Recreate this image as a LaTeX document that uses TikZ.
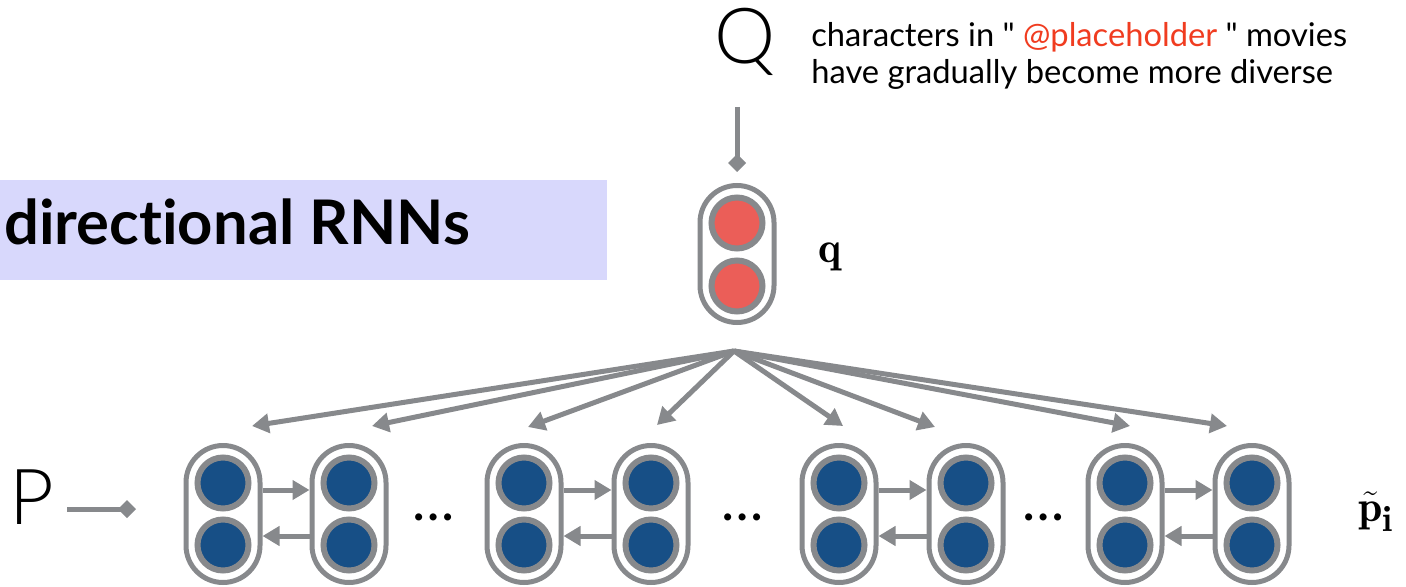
\documentclass[tikz,border=0pt]{standalone}
\usepackage{fontspec}
\usetikzlibrary{arrows.meta}

\newfontfamily\labelfont{Lato}[Ligatures=NoCommon]
\newfontfamily\thinfont{Lato}[UprightFont=* Light]

\definecolor{wire}{HTML}{87898C}
\definecolor{unitblue}{HTML}{174F86}
\definecolor{unitred}{HTML}{EB5E58}
\definecolor{banner}{HTML}{D8D8FC}
\definecolor{maskred}{HTML}{F03C20}

\begin{document}
\begin{tikzpicture}[x=0.2mm, y=-0.2mm,
    cell/.style={draw=wire, line width=1mm, fill=white, rounded corners=7.4mm,
                 minimum width=14.8mm, minimum height=27.4mm, inner sep=0},
    unit/.style={circle, draw=wire, line width=1.2mm, inner sep=0, minimum size=10.2mm},
    fwd/.style={unit, fill=unitblue},
    link/.style={draw=wire, line width=1mm, -{Triangle[length=3.4mm,width=3.8mm]}},
    feed/.style={draw=wire, line width=1mm, -{Diamond[length=3.6mm,width=3.6mm]}}]
    \useasboundingbox (0,0) rectangle (1406,587);

    % Title banner
    \fill[banner] (0,180) rectangle (607,280);
    \node[anchor=west, inner sep=0, font=\labelfont\bfseries\fontsize{35}{35}\selectfont] (title) at (4,222) {directional RNNs};

    % Question and its encoding
    \node[font=\thinfont\fontsize{44}{44}\selectfont] (Q) at (745,42) {Q};
    \node[anchor=west, align=left, inner sep=0, font=\labelfont\fontsize{18.6}{20.6}\selectfont] (qtext) at (811,56)
        {characters in " \textcolor{maskred}{@placeholder} " movies\\have gradually become more diverse};
    \coordinate (qin) at (737,107);
    \coordinate (qend) at (737,172);
    \draw[feed] (qin) -- (qend);

    \node[cell] (cq) at (737,254) {};
    \node[unit, fill=unitred] (q1) at (737,223) {};
    \node[unit, fill=unitred] (q2) at (737,286) {};
    \node[font=\fontsize{24.88}{24.88}\selectfont] (qlab) at (830,257) {$\mathbf{q}$};

    % Passage input
    \node[font=\thinfont\fontsize{44}{44}\selectfont] (P) at (32,497) {P};
    \coordinate (pin) at (67,509);
    \coordinate (pend) at (136,509);
    \draw[feed] (pin) -- (pend);

    % Passage cells
    \node[cell] (c1) at (223,514) {};
    \node[fwd] (f1) at (223,483) {};
    \node[fwd] (b1) at (223,545) {};
    \node[cell] (c2) at (349,514) {};
    \node[fwd] (f2) at (349,483) {};
    \node[fwd] (b2) at (349,545) {};
    \node[cell] (c3) at (524,514) {};
    \node[fwd] (f3) at (524,483) {};
    \node[fwd] (b3) at (524,545) {};
    \node[cell] (c4) at (651,514) {};
    \node[fwd] (f4) at (651,483) {};
    \node[fwd] (b4) at (651,545) {};
    \node[cell] (c5) at (839,514) {};
    \node[fwd] (f5) at (839,483) {};
    \node[fwd] (b5) at (839,545) {};
    \node[cell] (c6) at (966,514) {};
    \node[fwd] (f6) at (966,483) {};
    \node[fwd] (b6) at (966,545) {};
    \node[cell] (c7) at (1125,514) {};
    \node[fwd] (f7) at (1125,483) {};
    \node[fwd] (b7) at (1125,545) {};
    \node[cell] (c8) at (1252,514) {};
    \node[fwd] (f8) at (1252,483) {};
    \node[fwd] (b8) at (1252,545) {};

    % Forward and backward links inside each pair
    \draw[link] ([yshift=4.8mm]c1.east) -- ([yshift=4.8mm]c2.west);
    \draw[link] ([yshift=-4.4mm]c2.west) -- ([yshift=-4.4mm]c1.east);
    \draw[link] ([yshift=4.8mm]c3.east) -- ([yshift=4.8mm]c4.west);
    \draw[link] ([yshift=-4.4mm]c4.west) -- ([yshift=-4.4mm]c3.east);
    \draw[link] ([yshift=4.8mm]c5.east) -- ([yshift=4.8mm]c6.west);
    \draw[link] ([yshift=-4.4mm]c6.west) -- ([yshift=-4.4mm]c5.east);
    \draw[link] ([yshift=4.8mm]c7.east) -- ([yshift=4.8mm]c8.west);
    \draw[link] ([yshift=-4.4mm]c8.west) -- ([yshift=-4.4mm]c7.east);

    % Gaps between pairs
    \node[font=\labelfont\fontsize{32}{32}\selectfont] (d1) at (434,517) {\ldots};
    \node[font=\labelfont\fontsize{32}{32}\selectfont] (d2) at (743,517) {\ldots};
    \node[font=\labelfont\fontsize{32}{32}\selectfont] (d3) at (1044,517) {\ldots};

    \node[font=\fontsize{24.88}{24.88}\selectfont] (plab) at (1376,512) {$\tilde{\mathbf{p}}_{\mathbf{i}}$};

    % Fan from the question vector down to the cells
    \coordinate (hub) at (734,351);
    \coordinate (t1) at (252,426);
    \coordinate (t2) at (372,426);
    \coordinate (t3) at (528,427);
    \coordinate (t4) at (657,425);
    \coordinate (t5) at (843,426);
    \coordinate (t6) at (935,427);
    \coordinate (t7) at (1130,426);
    \coordinate (t8) at (1227,426);
    \draw[link] (hub) -- (t1);
    \draw[link] (hub) -- (t2);
    \draw[link] (hub) -- (t3);
    \draw[link] (hub) -- (t4);
    \draw[link] (hub) -- (t5);
    \draw[link] (hub) -- (t6);
    \draw[link] (hub) -- (t7);
    \draw[link] (hub) -- (t8);
\end{tikzpicture}
\end{document}
